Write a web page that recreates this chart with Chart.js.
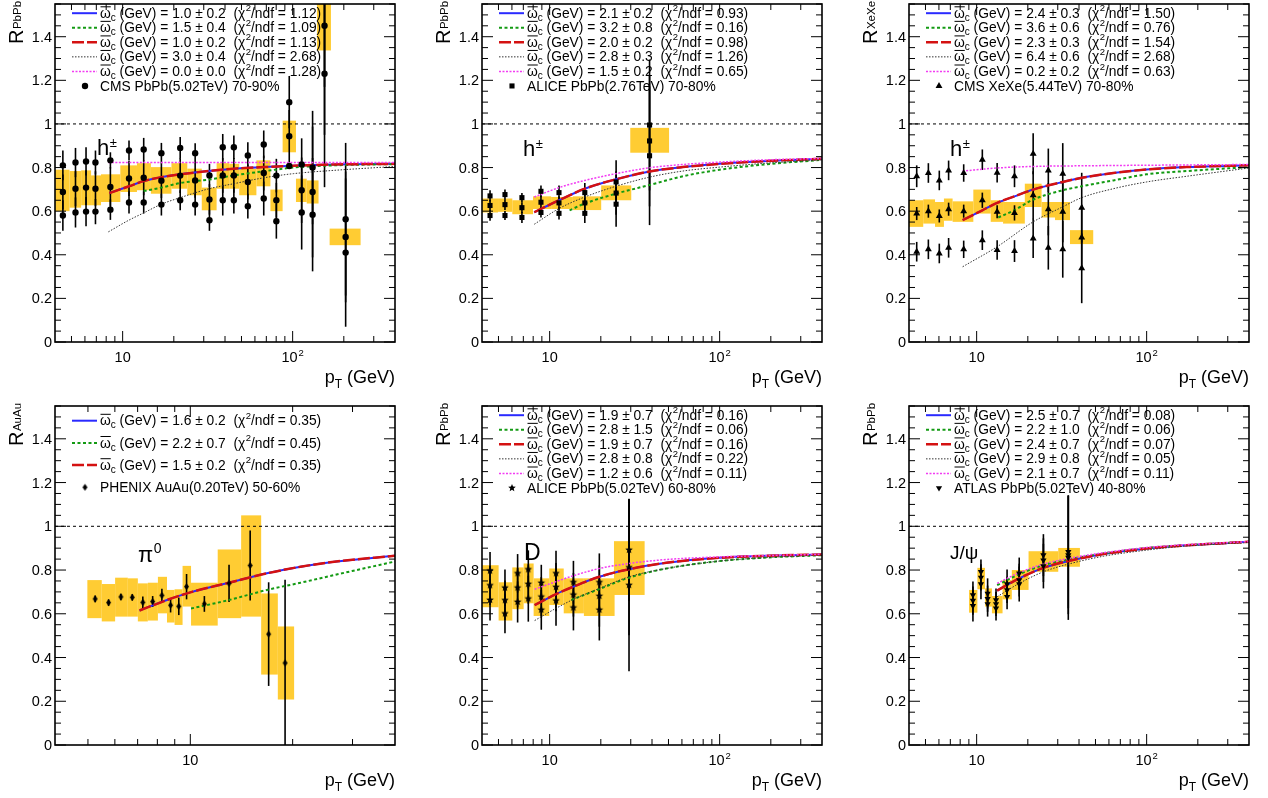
<!DOCTYPE html>
<html>
<head>
<meta charset="utf-8">
<script src="https://cdn.jsdelivr.net/npm/chart.js@4.4.1/dist/chart.umd.min.js"></script>
<style>
  html, body { margin: 0; padding: 0; background: #fff; }
  body { width: 1268px; height: 798px; position: relative; overflow: hidden; }
  canvas { position: absolute; }
</style>
</head>
<body>
<canvas id="c1" width="400" height="397" style="left:0;top:0;width:400px;height:397px"></canvas>
<canvas id="c2" width="400" height="397" style="left:427px;top:0;width:400px;height:397px"></canvas>
<canvas id="c3" width="400" height="397" style="left:854px;top:0;width:400px;height:397px"></canvas>
<canvas id="c4" width="400" height="398" style="left:0;top:402px;width:400px;height:398px"></canvas>
<canvas id="c5" width="400" height="398" style="left:427px;top:402px;width:400px;height:398px"></canvas>
<canvas id="c6" width="400" height="398" style="left:854px;top:402px;width:400px;height:398px"></canvas>
<script>
// ---------- data ----------
// y axis ticks (shared)
const yTickValues = [0, 0.2, 0.4, 0.6, 0.8, 1, 1.2, 1.4];
const yTickLabels = ['0', '0.2', '0.4', '0.6', '0.8', '1', '1.2', '1.4'];
const refLineY = [1, 1];

// panel 1: CMS PbPb 5.02 TeV, h±, 70-90%
const hCmsX   = [4.45, 5.28, 6.09, 6.92, 8.47, 10.9, 13.3, 16.9, 21.8, 26.7, 32.4, 38.8, 45.1, 54.5, 67.6, 80.2, 95.5, 113, 131, 154, 205];
const hCmsMid = [0.688, 0.703, 0.708, 0.703, 0.711, 0.750, 0.753, 0.740, 0.763, 0.741, 0.654, 0.764, 0.764, 0.734, 0.775, 0.650, 0.944, 0.696, 0.688, 1.45, 0.482];
const hCmsUp  = [0.810, 0.823, 0.828, 0.823, 0.833, 0.878, 0.883, 0.866, 0.890, 0.866, 0.764, 0.893, 0.893, 0.855, 0.906, 0.763, 1.100, 0.814, 0.800, 1.67, 0.563];
const hCmsLo  = [0.580, 0.594, 0.598, 0.598, 0.607, 0.640, 0.640, 0.630, 0.650, 0.630, 0.558, 0.650, 0.650, 0.623, 0.658, 0.554, 0.807, 0.594, 0.584, 1.23, 0.410];
const hCmsErrUp  = [0.068, 0.067, 0.065, 0.055, 0.037, 0.046, 0.053, 0.047, 0.050, 0.046, 0.053, 0.061, 0.054, 0.061, 0.064, 0.077, 0.12, 0.12, 0.26, 0.5, 0.35];
const hCmsErrMid = [0.08, 0.08, 0.08, 0.08, 0.09, 0.08, 0.08, 0.08, 0.08, 0.08, 0.07, 0.08, 0.08, 0.08, 0.08, 0.08, 0.12, 0.15, 0.3, 0.5, 0.3];
const hCmsErrLo  = [0.070, 0.069, 0.067, 0.058, 0.047, 0.051, 0.051, 0.050, 0.046, 0.050, 0.048, 0.070, 0.061, 0.057, 0.078, 0.080, 0.005, 0.17, 0.26, 0.52, 0.34];
const hCmsBoxX0 = [4.0, 4.87, 5.70, 6.52, 7.46, 9.69, 12.14, 14.66, 19.37, 24.0, 29.2, 35.7, 42.4, 48.5, 61.2, 74.0, 87.3, 104.6, 121, 139, 165];
const hCmsBoxX1 = [4.87, 5.70, 6.52, 7.46, 9.69, 12.14, 14.66, 19.37, 24.0, 29.2, 35.7, 42.4, 48.5, 61.2, 74.0, 87.3, 104.6, 121, 142, 168, 251];
const hCmsBoxY0 = [0.60, 0.616, 0.627, 0.627, 0.642, 0.688, 0.696, 0.68, 0.703, 0.673, 0.604, 0.703, 0.703, 0.673, 0.714, 0.60, 0.87, 0.642, 0.635, 1.337, 0.444];
const hCmsBoxY1 = [0.79, 0.784, 0.787, 0.764, 0.769, 0.81, 0.82, 0.802, 0.82, 0.795, 0.708, 0.82, 0.817, 0.795, 0.833, 0.699, 1.015, 0.749, 0.741, 1.6, 0.52];
const hCmsFitX   = [8.35, 10.9, 13.3, 16.9, 21.8, 32.3, 45.1, 67.6, 101, 174, 400];
const hCmsFitY   = [0.683, 0.714, 0.738, 0.756, 0.769, 0.784, 0.795, 0.802, 0.808, 0.814, 0.817];
const hCmsGreenX = [13.3, 16.9, 21.8, 32.3, 45.1, 67.6, 101, 174, 400];
const hCmsGreenY = [0.692, 0.708, 0.729, 0.745, 0.764, 0.783, 0.800, 0.810, 0.816];
const hCmsBlackX = [8.24, 10.9, 13.3, 16.9, 21.8, 32.3, 45.1, 67.6, 101, 174, 400];
const hCmsBlackY = [0.505, 0.559, 0.592, 0.632, 0.662, 0.703, 0.726, 0.753, 0.772, 0.787, 0.805];
const hCmsMagX   = [8.24, 20, 100, 400];
const hCmsMagY   = [0.823, 0.823, 0.823, 0.823];
const hCmsOmega  = ['1.0 ± 0.2', '1.5 ± 0.4', '1.0 ± 0.2', '3.0 ± 0.4', '0.0 ± 0.0'];
const hCmsChi    = ['1.12', '1.09', '1.13', '2.68', '1.28'];

// panel 2: ALICE PbPb 2.76 TeV, h±, 70-80%
const hAliX   = [4.46, 5.46, 6.87, 8.89, 11.35, 16.1, 24.6, 38.7];
const hAliMid = [0.626, 0.630, 0.616, 0.641, 0.638, 0.638, 0.683, 0.922];
const hAliUp  = [0.670, 0.676, 0.662, 0.691, 0.685, 0.685, 0.734, 0.995];
const hAliLo  = [0.580, 0.580, 0.571, 0.594, 0.590, 0.590, 0.632, 0.854];
const hAliErrUp  = [0.026, 0.023, 0.021, 0.027, 0.033, 0.044, 0.10, 0.30];
const hAliErrMid = [0.025, 0.025, 0.025, 0.03, 0.03, 0.045, 0.10, 0.30];
const hAliErrLo  = [0.024, 0.021, 0.025, 0.023, 0.028, 0.044, 0.104, 0.318];
const hAliBoxX0 = [3.96, 4.97, 6.03, 7.98, 10.2, 13.7, 20.1, 29.8];
const hAliBoxX1 = [4.97, 6.03, 7.98, 10.2, 13.7, 20.1, 30.2, 50.4];
const hAliBoxY0 = [0.594, 0.597, 0.586, 0.61, 0.61, 0.605, 0.65, 0.868];
const hAliBoxY1 = [0.658, 0.658, 0.65, 0.668, 0.665, 0.668, 0.718, 0.982];
const hAliFitX   = [8.12, 11.35, 16.1, 24.5, 38.7, 60.8, 100, 188, 400];
const hAliFitY   = [0.595, 0.650, 0.703, 0.746, 0.782, 0.802, 0.817, 0.830, 0.840];
const hAliMagY   = [0.665, 0.708, 0.741, 0.772, 0.799, 0.814, 0.825, 0.835, 0.842];
const hAliBlackY = [0.540, 0.612, 0.665, 0.714, 0.756, 0.784, 0.802, 0.820, 0.835];
const hAliGreenX = [13.1, 16.1, 24.5, 38.7, 60.8, 100, 188, 400];
const hAliGreenY = [0.604, 0.635, 0.680, 0.720, 0.760, 0.790, 0.815, 0.835];
const hAliOmega  = ['2.1 ± 0.2', '3.2 ± 0.8', '2.0 ± 0.2', '2.8 ± 0.3', '1.5 ± 0.2'];
const hAliChi    = ['0.93', '0.16', '0.98', '1.26', '0.65'];

// panel 3: CMS XeXe 5.44 TeV, h±, 70-80%
const hXeX   = [4.44, 5.2, 6.03, 6.84, 8.39, 10.8, 13.2, 16.7, 21.5, 26.4, 32.1, 41.5];
const hXeMid = [0.589, 0.600, 0.578, 0.609, 0.600, 0.650, 0.597, 0.592, 0.673, 0.609, 0.597, 0.479];
const hXeUp  = [0.760, 0.775, 0.741, 0.787, 0.775, 0.836, 0.776, 0.760, 0.863, 0.787, 0.772, 0.616];
const hXeLo  = [0.414, 0.425, 0.406, 0.432, 0.425, 0.467, 0.422, 0.417, 0.475, 0.432, 0.425, 0.338];
const hXeErrUp  = [0.05, 0.045, 0.045, 0.045, 0.04, 0.047, 0.045, 0.05, 0.094, 0.10, 0.14, 0.16];
const hXeErrMid = [0.03, 0.03, 0.03, 0.03, 0.03, 0.035, 0.03, 0.035, 0.11, 0.12, 0.14, 0.15];
const hXeErrLo  = [0.045, 0.045, 0.045, 0.045, 0.04, 0.045, 0.045, 0.05, 0.09, 0.10, 0.13, 0.16];
const hXeBoxX0 = [4.0, 4.85, 5.69, 6.42, 7.22, 9.56, 12.1, 14.3, 19.2, 24.1, 28.9, 35.4];
const hXeBoxX1 = [4.85, 5.69, 6.42, 7.22, 9.56, 12.1, 14.3, 19.2, 24.1, 29.6, 35.4, 48.5];
const hXeBoxY0 = [0.528, 0.543, 0.528, 0.556, 0.551, 0.589, 0.551, 0.543, 0.619, 0.571, 0.559, 0.449];
const hXeBoxY1 = [0.65, 0.654, 0.642, 0.658, 0.645, 0.699, 0.65, 0.642, 0.726, 0.642, 0.642, 0.513];
const hXeFitX   = [8.27, 10.8, 13.2, 16.7, 21.5, 32.1, 41.5, 63.7, 100, 172, 400];
const hXeFitY   = [0.559, 0.604, 0.638, 0.668, 0.699, 0.734, 0.753, 0.775, 0.791, 0.802, 0.810];
const hXeGreenX = [13.4, 16.7, 21.5, 32.1, 41.5, 63.7, 100, 172, 400];
const hXeGreenY = [0.571, 0.605, 0.653, 0.696, 0.714, 0.741, 0.769, 0.784, 0.802];
const hXeBlackX = [8.27, 13.2, 21.5, 32.1, 41.5, 63.7, 100, 172, 400];
const hXeBlackY = [0.345, 0.437, 0.551, 0.620, 0.662, 0.703, 0.734, 0.760, 0.798];
const hXeMagX   = [8.27, 13.2, 21.5, 41.5, 400];
const hXeMagY   = [0.784, 0.798, 0.805, 0.808, 0.814];
const hXeOmega  = ['2.4 ± 0.3', '3.6 ± 0.6', '2.3 ± 0.3', '6.4 ± 0.6', '0.2 ± 0.2'];
const hXeChi    = ['1.50', '0.76', '1.54', '2.68', '0.63'];

// panel 4: PHENIX AuAu 0.20 TeV, pi0, 50-60%
const pi0X   = [5.25, 5.75, 6.25, 6.75, 7.25, 7.75, 8.25, 8.75, 9.25, 9.75, 11, 13, 15, 17, 19];
const pi0Mid = [0.668, 0.651, 0.677, 0.675, 0.652, 0.656, 0.684, 0.639, 0.634, 0.724, 0.645, 0.739, 0.821, 0.507, 0.375];
const pi0Err = [0.015, 0.015, 0.015, 0.015, 0.027, 0.025, 0.03, 0.033, 0.04, 0.058, 0.036, 0.085, 0.16, 0.237, 0.38];
const pi0BoxX0 = [4.98, 5.49, 6.01, 6.55, 7.01, 7.50, 8.03, 8.54, 8.99, 9.49, 10.05, 12.04, 14.11, 16.16, 18.09];
const pi0BoxX1 = [5.49, 6.01, 6.55, 7.01, 7.50, 8.03, 8.54, 8.99, 9.49, 10.05, 12.04, 14.11, 16.16, 18.09, 20.2];
const pi0BoxY0 = [0.58, 0.565, 0.587, 0.587, 0.565, 0.569, 0.602, 0.56, 0.549, 0.633, 0.546, 0.58, 0.587, 0.322, 0.208];
const pi0BoxY1 = [0.754, 0.736, 0.765, 0.762, 0.739, 0.742, 0.769, 0.709, 0.712, 0.819, 0.742, 0.894, 1.05, 0.693, 0.542];
const pi0FitX   = [7.09, 8.54, 10, 13, 16.8, 21.1, 26.5, 40];
const pi0FitY   = [0.615, 0.663, 0.698, 0.742, 0.785, 0.815, 0.838, 0.865];
const pi0GreenX = [10.05, 13, 16.8, 21.1, 26.5, 40];
const pi0GreenY = [0.624, 0.663, 0.709, 0.742, 0.777, 0.839];
const pi0Omega  = ['1.6 ± 0.2', '2.2 ± 0.7', '1.5 ± 0.2'];
const pi0Chi    = ['0.35', '0.45', '0.35'];

// panel 5: ALICE PbPb 5.02 TeV, D mesons, 60-80%
const dMesX   = [4.46, 5.46, 6.48, 7.49, 8.93, 10.9, 13.8, 19.6, 29.3];
const dMesMid = [0.730, 0.662, 0.719, 0.736, 0.678, 0.722, 0.687, 0.681, 0.812];
const dMesUp  = [0.797, 0.719, 0.785, 0.803, 0.741, 0.785, 0.744, 0.744, 0.892];
const dMesLo  = [0.663, 0.601, 0.654, 0.669, 0.618, 0.660, 0.628, 0.618, 0.731];
const dMesErrUp  = [0.086, 0.084, 0.088, 0.087, 0.083, 0.103, 0.098, 0.132, 0.234];
const dMesErrMid = [0.09, 0.09, 0.09, 0.09, 0.09, 0.11, 0.10, 0.14, 0.31];
const dMesErrLo  = [0.094, 0.09, 0.094, 0.105, 0.091, 0.115, 0.104, 0.14, 0.394];
const dMesBoxX0 = [3.96, 5.01, 6.03, 7.03, 8.05, 9.95, 12.1, 15.9, 23.9];
const dMesBoxX1 = [5.01, 6.03, 7.03, 8.05, 9.95, 12.1, 15.9, 24.1, 36.2];
const dMesBoxY0 = [0.63, 0.569, 0.621, 0.648, 0.59, 0.64, 0.602, 0.59, 0.686];
const dMesBoxY1 = [0.822, 0.744, 0.812, 0.83, 0.762, 0.807, 0.762, 0.762, 0.932];
const dMesFitX   = [8.16, 10.9, 13.8, 19.6, 29.3, 48.6, 100, 188, 400];
const dMesFitY   = [0.640, 0.690, 0.724, 0.769, 0.804, 0.833, 0.856, 0.865, 0.871];
const dMesMagY   = [0.712, 0.747, 0.774, 0.807, 0.830, 0.848, 0.860, 0.866, 0.872];
const dMesBlackY = [0.569, 0.625, 0.666, 0.716, 0.769, 0.807, 0.841, 0.857, 0.868];
const dMesGreenX = [13.4, 19.6, 29.3, 48.6, 100, 188, 400];
const dMesGreenY = [0.663, 0.713, 0.765, 0.807, 0.841, 0.857, 0.868];
const dMesOmega  = ['1.9 ± 0.7', '2.8 ± 1.5', '1.9 ± 0.7', '2.8 ± 0.8', '1.2 ± 0.6'];
const dMesChi    = ['0.16', '0.06', '0.16', '0.22', '0.11'];

// panel 6: ATLAS PbPb 5.02 TeV, J/psi, 40-80%
const jpsiX   = [9.51, 10.6, 11.6, 13.0, 15.1, 17.8, 24.7, 34.6];
const jpsiMid = [0.660, 0.766, 0.669, 0.645, 0.709, 0.754, 0.845, 0.868];
const jpsiUp  = [0.686, 0.792, 0.693, 0.663, 0.736, 0.785, 0.868, 0.883];
const jpsiLo  = [0.636, 0.736, 0.645, 0.625, 0.678, 0.736, 0.818, 0.857];
const jpsiErrUp  = [0.061, 0.056, 0.069, 0.053, 0.067, 0.072, 0.096, 0.258];
const jpsiErrMid = [0.065, 0.06, 0.06, 0.055, 0.06, 0.075, 0.10, 0.27];
const jpsiErrLo  = [0.071, 0.07, 0.058, 0.056, 0.057, 0.08, 0.102, 0.285];
const jpsiBoxX0 = [9.02, 10.1, 11.2, 12.3, 14.2, 16.1, 20.2, 30.2];
const jpsiBoxX1 = [10.1, 11.2, 12.3, 14.2, 16.1, 20.2, 30.2, 40.5];
const jpsiBoxY0 = [0.605, 0.712, 0.633, 0.602, 0.666, 0.709, 0.792, 0.815];
const jpsiBoxY1 = [0.709, 0.81, 0.716, 0.681, 0.754, 0.8, 0.886, 0.901];
const jpsiFitX   = [13.2, 17.8, 24.7, 34.6, 55.6, 100, 172, 400];
const jpsiFitY   = [0.706, 0.762, 0.810, 0.841, 0.873, 0.898, 0.913, 0.929];
const jpsiGreenY = [0.731, 0.781, 0.822, 0.848, 0.876, 0.901, 0.914, 0.929];
const jpsiMagY   = [0.739, 0.788, 0.827, 0.853, 0.879, 0.903, 0.916, 0.930];
const jpsiBlackY = [0.678, 0.739, 0.792, 0.827, 0.863, 0.891, 0.910, 0.926];
const jpsiOmega  = ['2.5 ± 0.7', '2.2 ± 1.0', '2.4 ± 0.7', '2.9 ± 0.8', '2.1 ± 0.7'];
const jpsiChi    = ['0.08', '0.06', '0.07', '0.05', '0.11'];

// ---------- styles ----------
const FAMILY = '"Liberation Sans", Arial, Helvetica, sans-serif';
const fnt = (s) => s + 'px ' + FAMILY;
const LEG = 13.8;   // legend font size
const BOX_COLOR = '#ffcc33';
const LINE_STYLES = {
  blue:    { color: '#2a2aff', width: 2,   dash: [] },
  green:   { color: '#139a13', width: 2,   dash: [3, 2.5] },
  red:     { color: '#d41111', width: 2.5, dash: [12, 3] },
  black:   { color: '#333333', width: 1,   dash: [1.5, 1.5] },
  magenta: { color: '#f23cf2', width: 1.5, dash: [2, 1.5] }
};
const CURVE_ORDER = { blue: 7, green: 6, red: 5, black: 4, magenta: 3 };

// custom marker shapes
function starMarker(r) {
  const c = document.createElement('canvas');
  c.width = c.height = Math.ceil(2 * r + 2);
  const g = c.getContext('2d');
  g.translate(c.width / 2, c.height / 2);
  g.beginPath();
  for (let k = 0; k < 10; k++) {
    const rad = k % 2 ? r * 0.45 : r;
    const ang = -Math.PI / 2 + k * Math.PI / 5;
    g.lineTo(rad * Math.cos(ang), rad * Math.sin(ang));
  }
  g.closePath();
  g.fillStyle = '#000';
  g.fill();
  return c;
}
function diamondMarker(w, h) {
  const c = document.createElement('canvas');
  c.width = w + 2; c.height = h + 2;
  const g = c.getContext('2d');
  g.beginPath();
  g.moveTo(c.width / 2, 1); g.lineTo(c.width - 1, c.height / 2);
  g.lineTo(c.width / 2, c.height - 1); g.lineTo(1, c.height / 2);
  g.closePath();
  g.fillStyle = '#000';
  g.fill();
  return c;
}

// ---------- drawing helpers ----------
function hline(ctx, x0, y0, x1, y1) {
  ctx.beginPath(); ctx.moveTo(x0, y0); ctx.lineTo(x1, y1); ctx.stroke();
}

function drawLegend(ctx, cfg) {
  const L = cfg.legend;
  ctx.save();
  ctx.textAlign = 'left';
  ctx.textBaseline = 'alphabetic';
  L.omega.forEach((om, i) => {
    const yc = L.top + L.step * i;
    const st = LINE_STYLES[L.styles[i]];
    ctx.strokeStyle = st.color; ctx.lineWidth = st.width; ctx.setLineDash(st.dash);
    hline(ctx, 72, yc, 97, yc);
    ctx.setLineDash([]);
    ctx.fillStyle = '#000';
    const by = yc + 4.6;
    let cx = 100;
    ctx.font = fnt(LEG);
    ctx.fillText('ω', cx, by);
    const ow = ctx.measureText('ω').width;
    ctx.fillRect(cx + 0.5, by - 11.5, ow - 0.5, 1);
    cx += ow;
    ctx.font = fnt(10);
    ctx.fillText('c', cx, by + 3);
    cx += ctx.measureText('c').width;
    ctx.font = fnt(LEG);
    const s1 = ' (GeV) = ' + om + '  (χ';
    ctx.fillText(s1, cx, by);
    cx += ctx.measureText(s1).width;
    ctx.font = fnt(9.5);
    ctx.fillText('2', cx + 0.5, by - 6.5);
    cx += ctx.measureText('2').width + 0.5;
    ctx.font = fnt(LEG);
    ctx.fillText('/ndf = ' + L.chi[i] + ')', cx, by);
  });
  const yd = L.top + L.step * L.omega.length;
  ctx.fillStyle = '#000';
  Chart.helpers.drawPoint(ctx, { pointStyle: cfg.marker.style, radius: cfg.marker.radius, rotation: cfg.marker.rotation || 0, borderWidth: 0 }, 85, yd);
  ctx.font = fnt(LEG);
  ctx.fillText(L.dataLabel, 100, yd + 4.6);
  ctx.restore();
}

function rootPlugin(cfg) {
  return {
    id: 'rootStyle',
    beforeDatasetsDraw(chart) {
      const { ctx, chartArea: a, scales: { x, y } } = chart;
      ctx.save();
      ctx.beginPath();
      ctx.rect(a.left, a.top, a.right - a.left, a.bottom - a.top);
      ctx.clip();
      // systematic boxes
      ctx.fillStyle = BOX_COLOR;
      const [bx0, bx1, by0, by1] = cfg.box;
      bx0.forEach((v, i) => {
        const l = x.getPixelForValue(v), r = x.getPixelForValue(bx1[i]);
        const t = y.getPixelForValue(by1[i]), b = y.getPixelForValue(by0[i]);
        ctx.fillRect(l, t, r - l, b - t);
      });
      // statistical error bars
      ctx.strokeStyle = '#000';
      ctx.lineWidth = 1.6;
      cfg.err.forEach(([vals, errs]) => {
        vals.forEach((v, i) => {
          const px = x.getPixelForValue(cfg.x[i]);
          hline(ctx, px, y.getPixelForValue(v - errs[i]), px, y.getPixelForValue(v + errs[i]));
        });
      });
      ctx.restore();
    },
    afterDraw(chart) {
      const { ctx, chartArea: a, scales: { x, y } } = chart;
      ctx.save();
      // frame
      ctx.strokeStyle = '#000';
      ctx.lineWidth = 1.6;
      ctx.strokeRect(a.left, a.top, a.right - a.left, a.bottom - a.top);
      // y ticks (inside, both sides)
      ctx.lineWidth = 1;
      for (let v = 0; v <= 1.5501; v += 0.05) {
        const py = y.getPixelForValue(v);
        const major = Math.abs(v / 0.2 - Math.round(v / 0.2)) < 1e-6;
        const len = major ? 11 : 6;
        hline(ctx, a.left, py, a.left + len, py);
        hline(ctx, a.right, py, a.right - len, py);
      }
      // x ticks (inside, bottom and top)
      [1, 10, 100].forEach(d => {
        for (let m = 1; m <= 9; m++) {
          const v = m * d;
          if (v <= cfg.xMin || v >= cfg.xMax) continue;
          const px = x.getPixelForValue(v);
          const len = m === 1 ? 11 : 6;
          hline(ctx, px, a.bottom, px, a.bottom - len);
          hline(ctx, px, a.top, px, a.top + len);
        }
      });
      // y tick labels
      ctx.fillStyle = '#000';
      ctx.font = fnt(14.5);
      ctx.textAlign = 'right';
      ctx.textBaseline = 'middle';
      yTickValues.forEach((v, i) => ctx.fillText(yTickLabels[i], a.left - 3, y.getPixelForValue(v) + 1));
      // x tick labels
      ctx.textAlign = 'left';
      ctx.textBaseline = 'alphabetic';
      cfg.xLabels.forEach(([v, base, sup]) => {
        ctx.font = fnt(14.5);
        const wb = ctx.measureText(base).width;
        ctx.font = fnt(9.5);
        const ws = sup ? ctx.measureText(sup).width + 1 : 0;
        const px = x.getPixelForValue(v) - (wb + ws) / 2;
        ctx.font = fnt(14.5);
        ctx.fillText(base, px, a.bottom + 20);
        if (sup) { ctx.font = fnt(9.5); ctx.fillText(sup, px + wb + 1, a.bottom + 14); }
      });
      // x title: p_T (GeV)
      ctx.font = fnt(18);
      const wp = ctx.measureText('p').width, wg = ctx.measureText(' (GeV)').width;
      ctx.font = fnt(12);
      const wt = ctx.measureText('T').width;
      let tx = a.right - (wp + wt + wg);
      const ty = a.bottom + 41;
      ctx.font = fnt(18); ctx.fillText('p', tx, ty); tx += wp;
      ctx.font = fnt(12); ctx.fillText('T', tx, ty + 5); tx += wt;
      ctx.font = fnt(18); ctx.fillText(' (GeV)', tx, ty);
      // y title: R_sub (rotated)
      ctx.save();
      ctx.translate(23, 44);
      ctx.rotate(-Math.PI / 2);
      ctx.font = fnt(20);
      ctx.fillText('R', 0, 0);
      const wr = ctx.measureText('R').width;
      ctx.font = fnt(11.5);
      ctx.fillText(cfg.sub, wr + 0.5, -2);
      ctx.restore();
      // particle label
      const t = cfg.tag;
      ctx.font = fnt(t.size);
      ctx.fillText(t.text, t.x, t.y);
      if (t.sup) {
        const w = ctx.measureText(t.text).width;
        ctx.font = fnt(t.supSize);
        ctx.fillText(t.sup, t.x + w + 0.5, t.y - t.supRise);
      }
      ctx.restore();
      drawLegend(ctx, cfg);
    }
  };
}

function pts(xs, ys) { return xs.map((v, i) => ({ x: v, y: ys[i] })); }

function buildPanel(id, cfg) {
  const datasets = [];
  // reference line at R = 1
  datasets.push({
    data: pts([cfg.xMin, cfg.xMax], refLineY), showLine: true, pointRadius: 0,
    borderColor: '#000', borderWidth: 1, borderDash: [3, 3], order: 9
  });
  cfg.curves.forEach(([name, xs, ys]) => {
    const st = LINE_STYLES[name];
    datasets.push({
      data: pts(xs, ys), showLine: true, pointRadius: 0, fill: false,
      borderColor: st.color, borderWidth: st.width, borderDash: st.dash,
      cubicInterpolationMode: 'monotone', order: CURVE_ORDER[name]
    });
  });
  cfg.err.forEach(([vals]) => {
    datasets.push({
      data: pts(cfg.x, vals), showLine: false,
      pointStyle: cfg.marker.style, pointRadius: cfg.marker.radius,
      pointRotation: cfg.marker.rotation || 0,
      backgroundColor: '#000', borderColor: '#000', pointBorderWidth: 0, order: 1
    });
  });
  return new Chart(document.getElementById(id), {
    type: 'scatter',
    data: { datasets },
    options: {
      responsive: false,
      animation: false,
      devicePixelRatio: 1,
      events: [],
      layout: { padding: { left: 0, right: 5, top: 3, bottom: 0 } },
      plugins: { legend: { display: false }, tooltip: { enabled: false } },
      scales: {
        x: {
          type: 'logarithmic', min: cfg.xMin, max: cfg.xMax,
          grid: { display: false }, border: { display: false }, ticks: { display: false },
          afterFit: (s) => { s.height = 55; }
        },
        y: {
          type: 'linear', min: 0, max: 1.55,
          grid: { display: false }, border: { display: false }, ticks: { display: false },
          afterFit: (s) => { s.width = 55; }
        }
      }
    },
    plugins: [rootPlugin(cfg)]
  });
}

const FIVE = ['blue', 'green', 'red', 'black', 'magenta'];
const topLegend = { top: 13.2, step: 14.55, styles: FIVE };

buildPanel('c1', {
  xMin: 4, xMax: 400, xLabels: [[10, '10', ''], [100, '10', '2']], sub: 'PbPb',
  x: hCmsX,
  err: [[hCmsUp, hCmsErrUp], [hCmsMid, hCmsErrMid], [hCmsLo, hCmsErrLo]],
  box: [hCmsBoxX0, hCmsBoxX1, hCmsBoxY0, hCmsBoxY1],
  curves: [['blue', hCmsFitX, hCmsFitY], ['green', hCmsGreenX, hCmsGreenY], ['red', hCmsFitX, hCmsFitY],
           ['black', hCmsBlackX, hCmsBlackY], ['magenta', hCmsMagX, hCmsMagY]],
  marker: { style: 'circle', radius: 3.2 },
  legend: Object.assign({ omega: hCmsOmega, chi: hCmsChi, dataLabel: 'CMS PbPb(5.02TeV) 70-90%' }, topLegend),
  tag: { text: 'h', sup: '±', x: 97, y: 155, size: 22, supSize: 13, supRise: 8 }
});

buildPanel('c2', {
  xMin: 4, xMax: 400, xLabels: [[10, '10', ''], [100, '10', '2']], sub: 'PbPb',
  x: hAliX,
  err: [[hAliUp, hAliErrUp], [hAliMid, hAliErrMid], [hAliLo, hAliErrLo]],
  box: [hAliBoxX0, hAliBoxX1, hAliBoxY0, hAliBoxY1],
  curves: [['blue', hAliFitX, hAliFitY], ['green', hAliGreenX, hAliGreenY], ['red', hAliFitX, hAliFitY],
           ['black', hAliFitX, hAliBlackY], ['magenta', hAliFitX, hAliMagY]],
  marker: { style: 'rect', radius: 3.6 },
  legend: Object.assign({ omega: hAliOmega, chi: hAliChi, dataLabel: 'ALICE PbPb(2.76TeV) 70-80%' }, topLegend),
  tag: { text: 'h', sup: '±', x: 96, y: 156, size: 22, supSize: 13, supRise: 8 }
});

buildPanel('c3', {
  xMin: 4, xMax: 400, xLabels: [[10, '10', ''], [100, '10', '2']], sub: 'XeXe',
  x: hXeX,
  err: [[hXeUp, hXeErrUp], [hXeMid, hXeErrMid], [hXeLo, hXeErrLo]],
  box: [hXeBoxX0, hXeBoxX1, hXeBoxY0, hXeBoxY1],
  curves: [['blue', hXeFitX, hXeFitY], ['green', hXeGreenX, hXeGreenY], ['red', hXeFitX, hXeFitY],
           ['black', hXeBlackX, hXeBlackY], ['magenta', hXeMagX, hXeMagY]],
  marker: { style: 'triangle', radius: 4 },
  legend: Object.assign({ omega: hXeOmega, chi: hXeChi, dataLabel: 'CMS XeXe(5.44TeV) 70-80%' }, topLegend),
  tag: { text: 'h', sup: '±', x: 96, y: 156, size: 22, supSize: 13, supRise: 8 }
});

buildPanel('c4', {
  xMin: 4, xMax: 40, xLabels: [[10, '10', '']], sub: 'AuAu',
  x: pi0X,
  err: [[pi0Mid, pi0Err]],
  box: [pi0BoxX0, pi0BoxX1, pi0BoxY0, pi0BoxY1],
  curves: [['blue', pi0FitX, pi0FitY], ['green', pi0GreenX, pi0GreenY], ['red', pi0FitX, pi0FitY]],
  marker: { style: diamondMarker(5, 7), radius: 3 },
  legend: { omega: pi0Omega, chi: pi0Chi, dataLabel: 'PHENIX AuAu(0.20TeV) 50-60%', top: 18.7, step: 22.2, styles: ['blue', 'green', 'red'] },
  tag: { text: 'π', sup: '0', x: 138, y: 160, size: 22, supSize: 14, supRise: 9 }
});

buildPanel('c5', {
  xMin: 4, xMax: 400, xLabels: [[10, '10', ''], [100, '10', '2']], sub: 'PbPb',
  x: dMesX,
  err: [[dMesUp, dMesErrUp], [dMesMid, dMesErrMid], [dMesLo, dMesErrLo]],
  box: [dMesBoxX0, dMesBoxX1, dMesBoxY0, dMesBoxY1],
  curves: [['blue', dMesFitX, dMesFitY], ['green', dMesGreenX, dMesGreenY], ['red', dMesFitX, dMesFitY],
           ['black', dMesFitX, dMesBlackY], ['magenta', dMesFitX, dMesMagY]],
  marker: { style: starMarker(4), radius: 4 },
  legend: Object.assign({ omega: dMesOmega, chi: dMesChi, dataLabel: 'ALICE PbPb(5.02TeV) 60-80%' }, topLegend),
  tag: { text: 'D', x: 97, y: 158, size: 23 }
});

buildPanel('c6', {
  xMin: 4, xMax: 400, xLabels: [[10, '10', ''], [100, '10', '2']], sub: 'PbPb',
  x: jpsiX,
  err: [[jpsiUp, jpsiErrUp], [jpsiMid, jpsiErrMid], [jpsiLo, jpsiErrLo]],
  box: [jpsiBoxX0, jpsiBoxX1, jpsiBoxY0, jpsiBoxY1],
  curves: [['blue', jpsiFitX, jpsiFitY], ['green', jpsiFitX, jpsiGreenY], ['red', jpsiFitX, jpsiFitY],
           ['black', jpsiFitX, jpsiBlackY], ['magenta', jpsiFitX, jpsiMagY]],
  marker: { style: 'triangle', radius: 3.6, rotation: 180 },
  legend: Object.assign({ omega: jpsiOmega, chi: jpsiChi, dataLabel: 'ATLAS PbPb(5.02TeV) 40-80%' }, topLegend),
  tag: { text: 'J/ψ', x: 96, y: 157, size: 19 }
});
</script>
</body>
</html>
